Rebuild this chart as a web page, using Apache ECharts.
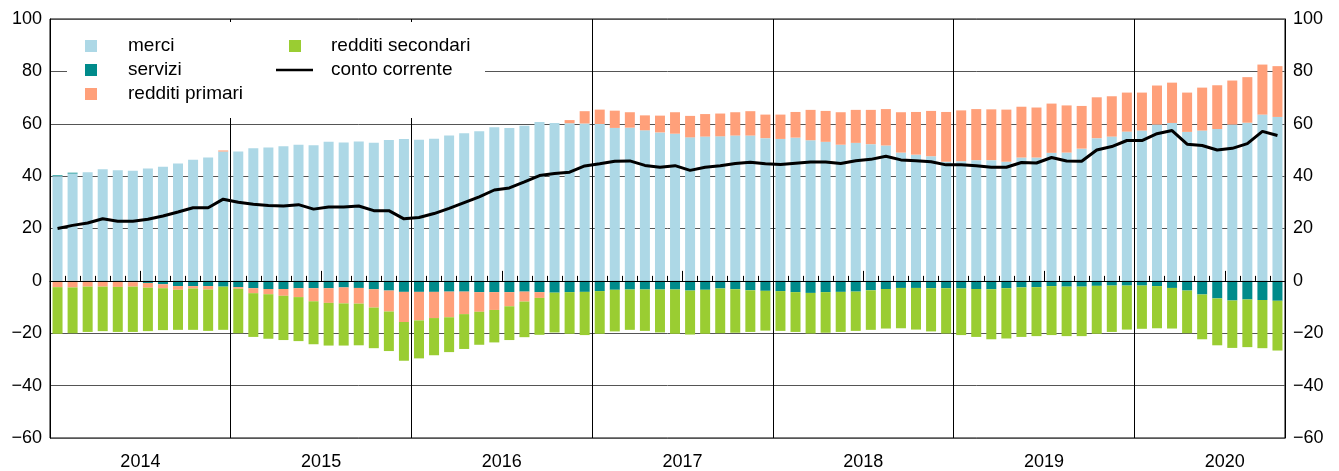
<!DOCTYPE html>
<html>
<head>
<meta charset="utf-8">
<script src="https://cdn.jsdelivr.net/npm/echarts@6/dist/echarts.min.js"></script>
<style>
  html, body { margin: 0; padding: 0; background: #fff; }
  #container { width: 1339px; height: 471px; }
</style>
</head>
<body>
<div id="container"></div>
<script>
// months: gen 2014 .. ott 2020
const years = [2014, 2015, 2016, 2017, 2018, 2019, 2020];
const monthsInLastYear = 10;

const merci = [
    40.0, 41.0, 41.5, 42.6, 42.2, 42.1, 42.9, 43.6, 44.8, 46.3, 47.1, 49.4,
    49.4, 50.6, 50.9, 51.4, 52.0, 51.8, 53.1, 52.8, 53.2, 52.7, 53.8, 54.2,
    53.9, 54.3, 55.5, 56.4, 57.1, 58.7, 58.4, 59.2, 60.7, 60.3, 60.2, 60.1,
    59.9, 58.4, 58.5, 57.5, 56.7, 56.2, 54.8, 55.1, 55.2, 55.5, 55.5, 54.5,
    54.2, 54.7, 53.7, 53.1, 52.0, 52.7, 52.2, 51.7, 49.0, 48.2, 47.6, 45.5,
    45.7, 46.1, 46.1, 45.5, 47.1, 47.1, 48.9, 49.0, 50.5, 54.5, 55.1, 57.0,
    57.4, 59.7, 60.3, 56.9, 57.4, 58.0, 59.7, 60.4, 63.5, 62.6
];
const servizi = [
    0.3, 0.3, 0.0, -0.2, -0.3, -0.5, -0.8, -1.3, -2.0, -2.0, -2.0, -2.2,
    -2.4, -2.8, -3.1, -3.1, -2.8, -2.8, -2.8, -2.5, -2.7, -3.2, -3.7, -4.2,
    -4.2, -4.2, -4.1, -4.1, -4.3, -4.3, -4.3, -4.1, -4.3, -4.5, -4.3, -4.2,
    -3.9, -3.4, -3.3, -3.3, -3.3, -3.3, -3.7, -3.4, -2.9, -3.2, -3.6, -3.8,
    -3.9, -4.3, -4.6, -4.3, -4.2, -4.1, -3.6, -3.1, -2.7, -2.7, -2.8, -2.8,
    -2.9, -3.1, -3.2, -2.8, -2.5, -2.4, -2.0, -2.2, -2.2, -1.9, -1.8, -1.8,
    -1.8, -2.0, -2.7, -3.7, -5.2, -6.7, -7.5, -7.1, -7.3, -7.6
];
const redditiPrimari = [
    -2.4, -2.5, -2.2, -2.0, -2.0, -1.7, -1.8, -1.5, -1.4, -0.9, -1.3, 0.4,
    -0.6, -1.9, -2.0, -2.6, -3.4, -5.0, -5.6, -6.1, -6.0, -7.0, -8.0, -11.5,
    -10.9, -10.0, -9.8, -8.6, -7.5, -6.8, -5.4, -3.8, -2.2, 0.0, 1.2, 4.7,
    5.5, 6.6, 5.9, 5.7, 6.4, 8.2, 8.2, 8.6, 8.7, 8.9, 9.3, 9.0,
    9.3, 9.8, 11.6, 11.8, 12.4, 12.6, 13.1, 13.9, 15.4, 16.3, 17.3, 19.0,
    19.4, 19.5, 19.4, 19.9, 19.4, 19.1, 18.8, 18.0, 16.3, 15.6, 15.4, 14.9,
    14.5, 14.9, 15.4, 15.0, 16.4, 16.7, 16.8, 17.4, 19.1, 19.4
];
const redditiSecondari = [
    -17.8, -17.5, -17.3, -17.0, -17.2, -17.3, -16.6, -16.0, -15.3, -15.8, -15.8, -16.5,
    -17.0, -16.7, -17.0, -16.9, -16.8, -16.4, -16.3, -16.1, -15.9, -15.5, -15.1, -14.8,
    -14.5, -14.2, -13.3, -13.3, -12.6, -12.4, -12.9, -13.6, -14.1, -15.2, -15.9, -16.5,
    -16.3, -15.9, -15.4, -15.8, -16.4, -16.9, -16.8, -16.8, -17.1, -16.6, -15.9, -15.2,
    -15.2, -15.2, -15.5, -15.5, -15.3, -15.0, -15.1, -15.1, -15.4, -15.9, -16.5, -17.3,
    -17.8, -18.3, -19.1, -19.2, -18.9, -18.7, -18.7, -18.9, -18.9, -18.3, -17.7, -16.8,
    -16.5, -16.1, -15.5, -16.3, -17.1, -17.9, -18.1, -18.2, -18.4, -19.0
];
const contoCorrente = [
    20.0, 21.2, 22.1, 23.7, 22.8, 22.8, 23.5, 24.8, 26.3, 27.9, 27.9, 31.2,
    30.0, 29.3, 28.8, 28.6, 29.1, 27.4, 28.2, 28.2, 28.6, 26.8, 26.8, 23.7,
    24.2, 25.7, 27.7, 29.9, 32.1, 34.7, 35.5, 37.8, 40.2, 41.0, 41.5, 43.9,
    44.7, 45.7, 45.8, 44.1, 43.4, 44.0, 42.2, 43.4, 44.0, 44.8, 45.3, 44.7,
    44.4, 44.9, 45.4, 45.4, 44.8, 45.9, 46.4, 47.6, 46.2, 45.9, 45.5, 44.3,
    44.3, 44.0, 43.4, 43.4, 45.2, 45.0, 47.1, 45.8, 45.7, 50.0, 51.3, 53.6,
    53.6, 56.2, 57.4, 52.2, 51.7, 50.0, 50.6, 52.4, 57.1, 55.5
];

// category labels "YYYY-MM"
const months = [];
years.forEach(function (y, k) {
    const n = k === years.length - 1 ? monthsInLastYear : 12;
    for (let m = 1; m <= n; m++) {
        months.push(y + '-' + ('0' + m).slice(-2));
    }
});

const colors = ['#ADD8E6', '#008B8B', '#FFA07A', '#9ACD32'];
const font = '"Liberation Sans", Arial, sans-serif';
const minus = function (v) { return String(v).replace('-', '\u2212'); };

var dom = document.getElementById('container');
var myChart = echarts.init(dom, null, { renderer: 'canvas' });

var option = {
    animation: false,
    textStyle: { fontFamily: font },
    grid: {
        left: 50, right: 54, top: 19, bottom: 33,
        show: true, borderColor: '#000', borderWidth: 1,
        outerBoundsMode: 'none'
    },
    graphic: [{
        // white box behind the legend, hides the grid lines there
        type: 'rect', z: 3,
        shape: { x: 67, y: 22, width: 418, height: 96 },
        style: { fill: '#fff' }
    }],
    legend: [
        {
            data: ['merci', 'servizi', 'redditi primari'],
            orient: 'vertical', left: 85, top: 36, padding: 0, z: 5,
            icon: 'rect', itemWidth: 12, itemHeight: 12, itemGap: 4,
            textStyle: { fontSize: 19, color: '#000', lineHeight: 20, padding: [0, 0, 0, 26], fontFamily: font }
        },
        {
            data: ['redditi secondari'],
            left: 289, top: 36, padding: 0, z: 5,
            icon: 'rect', itemWidth: 12, itemHeight: 12,
            textStyle: { fontSize: 19, color: '#000', lineHeight: 20, padding: [0, 0, 0, 25], fontFamily: font }
        },
        {
            data: ['conto corrente'],
            left: 276, top: 60, padding: 0, z: 5,
            icon: 'rect', itemWidth: 37, itemHeight: 2.5,
            itemStyle: { color: '#000' },
            textStyle: { fontSize: 19, color: '#000', lineHeight: 20, padding: [0, 0, 0, 13], fontFamily: font }
        }
    ],
    xAxis: [
        {
            type: 'category',
            data: months,
            axisLine: { show: true, lineStyle: { color: '#000' } },
            axisTick: { show: true, inside: true, length: 5, interval: 0, lineStyle: { color: '#000' } },
            axisLabel: {
                interval: function (i) { return i % 12 === 6; },
                formatter: function (v) { return v.slice(0, 4); },
                fontSize: 18, color: '#000', margin: 15, padding: [0, 15, 0, 0]
            },
            splitLine: {
                show: true,
                interval: function (i) { return i > 0 && i % 12 === 0; },
                lineStyle: { color: '#000', width: 1 }
            }
        },
        {
            type: 'category',
            data: months,
            position: 'bottom',
            axisLine: { show: false },
            axisTick: {
                show: true, inside: true, length: 10,
                interval: function (i) { return i % 12 === 6; },
                lineStyle: { color: '#000' }
            },
            axisLabel: { show: false },
            splitLine: { show: false }
        }
    ],
    yAxis: [
        {
            type: 'value', position: 'left',
            min: -60, max: 100, interval: 20,
            axisLine: { show: true, lineStyle: { color: '#000' } },
            axisTick: { show: false },
            axisLabel: { fontSize: 18, color: '#000', margin: 8, formatter: minus },
            splitLine: { show: true, lineStyle: { color: '#555', width: 1 } }
        },
        {
            type: 'value', position: 'right',
            min: -60, max: 100, interval: 20,
            axisLine: { show: true, lineStyle: { color: '#000' } },
            axisTick: { show: false },
            axisLabel: { fontSize: 18, color: '#000', margin: 8, formatter: minus },
            splitLine: { show: false }
        }
    ],
    series: [
        {
            name: 'merci', type: 'bar', stack: 'cc', barWidth: 10,
            itemStyle: { color: colors[0] }, data: merci
        },
        {
            name: 'servizi', type: 'bar', stack: 'cc', barWidth: 10,
            itemStyle: { color: colors[1] }, data: servizi
        },
        {
            name: 'redditi primari', type: 'bar', stack: 'cc', barWidth: 10,
            itemStyle: { color: colors[2] }, data: redditiPrimari
        },
        {
            name: 'redditi secondari', type: 'bar', stack: 'cc', barWidth: 10,
            itemStyle: { color: colors[3] }, data: redditiSecondari,
            markLine: {
                silent: true, symbol: 'none', label: { show: false },
                lineStyle: { color: '#000', width: 1, type: 'solid' },
                data: [{ yAxis: 0 }]
            }
        },
        {
            name: 'conto corrente', type: 'line', symbol: 'none',
            lineStyle: { color: '#000', width: 3 }, itemStyle: { color: '#000' },
            data: contoCorrente
        }
    ]
};

myChart.setOption(option);
window.addEventListener('resize', myChart.resize);
</script>
</body>
</html>
